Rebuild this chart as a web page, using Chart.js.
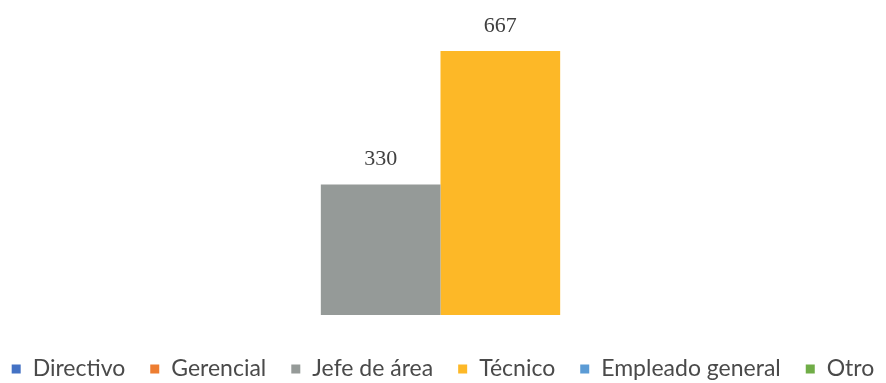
<!DOCTYPE html>
<html>
<head>
<meta charset="utf-8">
<script src="https://cdn.jsdelivr.net/npm/chart.js@4"></script>
<style>
  html, body { margin: 0; padding: 0; background: #fff; }
  #wrap { width: 886px; height: 383px; }
</style>
</head>
<body>
<div id="wrap"><canvas id="chart"></canvas></div>
<script>
const categories = ['']
const seriesNames = ['Directivo', 'Gerencial', 'Jefe de área', 'Técnico', 'Empleado general', 'Otro']
const seriesValues = [0, 0, 330, 667, 0, 0]
const seriesColors = ['#4472C4', '#ED7D31', '#959A98', '#FDB827', '#5B9BD5', '#70AD47']

const datasets = seriesNames.map((name, i) => ({
  label: name,
  data: [seriesValues[i]],
  backgroundColor: seriesColors[i],
  borderWidth: 0,
  barPercentage: 1,
  categoryPercentage: 0.815
}))

// writes the value above every non-zero bar
const valueLabels = {
  id: 'valueLabels',
  afterDatasetsDraw(chart) {
    const ctx = chart.ctx
    ctx.save()
    ctx.font = '22px "Liberation Serif", serif'
    ctx.fillStyle = '#404040'
    ctx.textAlign = 'center'
    ctx.textBaseline = 'alphabetic'
    chart.data.datasets.forEach((ds, i) => {
      chart.getDatasetMeta(i).data.forEach((bar, j) => {
        const v = ds.data[j]
        if (!v) return
        ctx.fillText(v, bar.x, bar.y - 19)
      })
    })
    ctx.restore()
  }
}

// single row legend below the plot, spaced wider than the built-in one allows
const rowLegend = {
  id: 'rowLegend',
  afterDraw(chart) {
    const ctx = chart.ctx
    const box = 9, gapText = 12, gapItem = 25
    const y = 369
    ctx.save()
    ctx.font = '23px Lato, sans-serif'
    ctx.textBaseline = 'middle'
    const widths = chart.data.datasets.map(ds => ctx.measureText(ds.label).width)
    const total = widths.reduce((s, w) => s + box + gapText + w, 0) + gapItem * (widths.length - 1)
    let x = (chart.width - total) / 2
    chart.data.datasets.forEach((ds, i) => {
      ctx.fillStyle = ds.backgroundColor
      ctx.fillRect(x, y - box / 2, box, box)
      x += box + gapText
      ctx.fillStyle = '#4a4a4a'
      ctx.fillText(ds.label, x, y)
      x += widths[i] + gapItem
    })
    ctx.restore()
  }
}

new Chart(document.getElementById('chart'), {
  type: 'bar',
  data: { labels: categories, datasets },
  options: {
    responsive: true,
    maintainAspectRatio: false,
    animation: false,
    layout: { padding: { left: 0, right: 5, top: 38, bottom: 68 } },
    scales: {
      x: { display: false },
      y: { display: false, min: 0, max: 700 }
    },
    plugins: {
      tooltip: { enabled: false },
      legend: { display: false }
    }
  },
  plugins: [valueLabels, rowLegend]
})
</script>
</body>
</html>
